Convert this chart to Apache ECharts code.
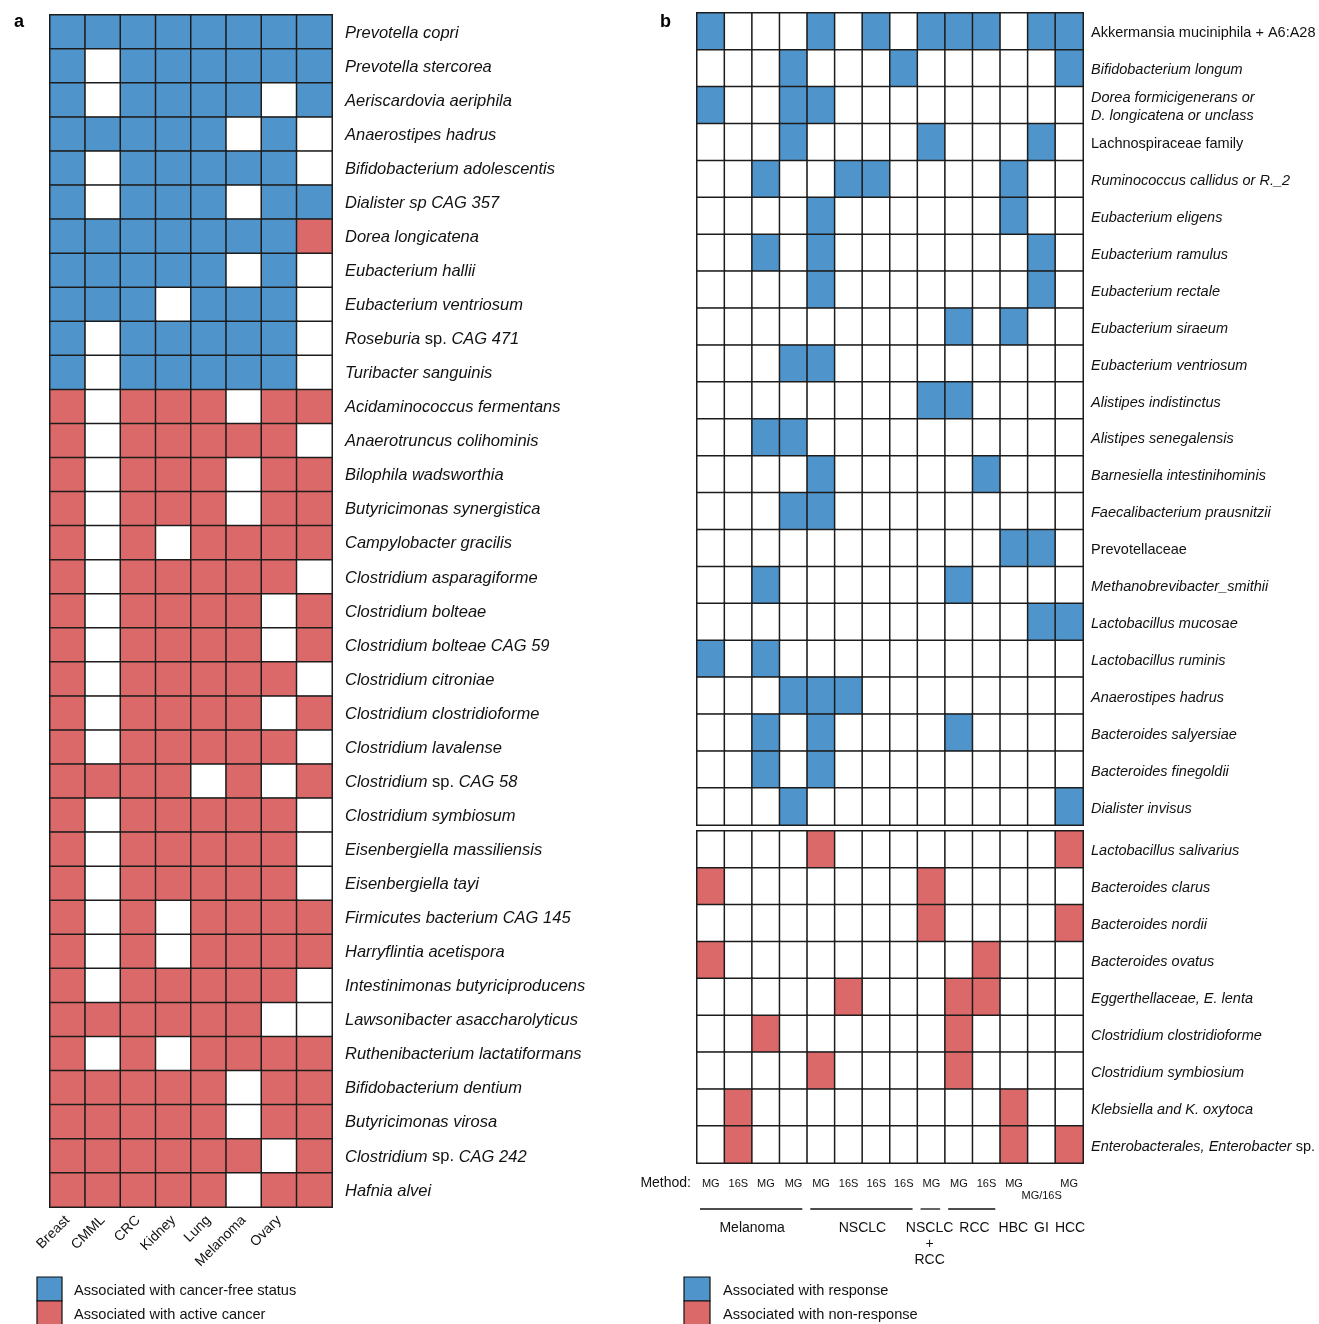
<!DOCTYPE html>
<html><head><meta charset="utf-8">
<script src="https://cdn.jsdelivr.net/npm/echarts@6/dist/echarts.min.js"></script>
<style>html,body{margin:0;padding:0;background:#fff}#c{width:1319px;height:1324px}</style>
</head><body><div id="c"></div>
<script>
// ---------- Panel a ----------
const cancersA = ['Breast','CMML','CRC','Kidney','Lung','Melanoma','Ovary',''];
const speciesA = ['Prevotella copri','Prevotella stercorea','Aeriscardovia aeriphila','Anaerostipes hadrus','Bifidobacterium adolescentis','Dialister sp CAG 357','Dorea longicatena','Eubacterium hallii','Eubacterium ventriosum','Roseburia sp. CAG 471','Turibacter sanguinis','Acidaminococcus fermentans','Anaerotruncus colihominis','Bilophila wadsworthia','Butyricimonas synergistica','Campylobacter gracilis','Clostridium asparagiforme','Clostridium bolteae','Clostridium bolteae CAG 59','Clostridium citroniae','Clostridium clostridioforme','Clostridium lavalense','Clostridium sp. CAG 58','Clostridium symbiosum','Eisenbergiella massiliensis','Eisenbergiella tayi','Firmicutes bacterium CAG 145','Harryflintia acetispora','Intestinimonas butyriciproducens','Lawsonibacter asaccharolyticus','Ruthenibacterium lactatiformans','Bifidobacterium dentium','Butyricimonas virosa','Clostridium sp. CAG 242','Hafnia alvei'];
// 1 = cancer-free status, -1 = active cancer, 0 = none
const valuesA = [
[1,1,1,1,1,1,1,1],
[1,0,1,1,1,1,1,1],
[1,0,1,1,1,1,0,1],
[1,1,1,1,1,0,1,0],
[1,0,1,1,1,1,1,0],
[1,0,1,1,1,0,1,1],
[1,1,1,1,1,1,1,-1],
[1,1,1,1,1,0,1,0],
[1,1,1,0,1,1,1,0],
[1,0,1,1,1,1,1,0],
[1,0,1,1,1,1,1,0],
[-1,0,-1,-1,-1,0,-1,-1],
[-1,0,-1,-1,-1,-1,-1,0],
[-1,0,-1,-1,-1,0,-1,-1],
[-1,0,-1,-1,-1,0,-1,-1],
[-1,0,-1,0,-1,-1,-1,-1],
[-1,0,-1,-1,-1,-1,-1,0],
[-1,0,-1,-1,-1,-1,0,-1],
[-1,0,-1,-1,-1,-1,0,-1],
[-1,0,-1,-1,-1,-1,-1,0],
[-1,0,-1,-1,-1,-1,0,-1],
[-1,0,-1,-1,-1,-1,-1,0],
[-1,-1,-1,-1,0,-1,0,-1],
[-1,0,-1,-1,-1,-1,-1,0],
[-1,0,-1,-1,-1,-1,-1,0],
[-1,0,-1,-1,-1,-1,-1,0],
[-1,0,-1,0,-1,-1,-1,-1],
[-1,0,-1,0,-1,-1,-1,-1],
[-1,0,-1,-1,-1,-1,-1,0],
[-1,-1,-1,-1,-1,-1,0,0],
[-1,0,-1,0,-1,-1,-1,-1],
[-1,-1,-1,-1,-1,0,-1,-1],
[-1,-1,-1,-1,-1,0,-1,-1],
[-1,-1,-1,-1,-1,-1,0,-1],
[-1,-1,-1,-1,-1,0,-1,-1]
];

// ---------- Panel b ----------
const methodB = ['MG','16S','MG','MG','MG','16S','16S','16S','MG','MG','16S','MG','MG/16S','MG'];
const groupsB = [
  {label:'Melanoma', start:0, end:3, line:true},
  {label:'NSCLC', start:4, end:7, line:true},
  {label:'NSCLC\n+\nRCC', start:8, end:8, line:true},
  {label:'RCC', start:9, end:10, line:true},
  {label:'HBC', start:11, end:11, line:false},
  {label:'GI', start:12, end:12, line:false},
  {label:'HCC', start:13, end:13, line:false}
];
const speciesTop = ['Akkermansia muciniphila + A6:A28','Bifidobacterium longum','Dorea formicigenerans or\nD. longicatena or unclass','Lachnospiraceae family','Ruminococcus callidus or R._2','Eubacterium eligens','Eubacterium ramulus','Eubacterium rectale','Eubacterium siraeum','Eubacterium ventriosum','Alistipes indistinctus','Alistipes senegalensis','Barnesiella intestinihominis','Faecalibacterium prausnitzii','Prevotellaceae','Methanobrevibacter_smithii','Lactobacillus mucosae','Lactobacillus ruminis','Anaerostipes hadrus','Bacteroides salyersiae','Bacteroides finegoldii','Dialister invisus'];
const responseCols = [
[0,4,6,8,9,10,12,13],[3,7,13],[0,3,4],[3,8,12],[2,5,6,11],[4,11],[2,4,12],[4,12],[9,11],[3,4],[8,9],
[2,3],[4,10],[3,4],[11,12],[2,9],[12,13],[0,2],[3,4,5],[2,4,9],[2,4],[3,13]
];
const speciesBot = ['Lactobacillus salivarius','Bacteroides clarus','Bacteroides nordii','Bacteroides ovatus','Eggerthellaceae, E. lenta','Clostridium clostridioforme','Clostridium symbiosium','Klebsiella and K. oxytoca','Enterobacterales, Enterobacter sp.'];
const nonResponseCols = [[4,13],[0,8],[8,13],[0,10],[5,9,10],[2,9],[4,9],[1,11],[1,11,13]];
const uprightNames = ['Akkermansia muciniphila + A6:A28','Lachnospiraceae family','Prevotellaceae'];

const legendA = ['Associated with cancer-free status','Associated with active cancer'];
const legendB = ['Associated with response','Associated with non-response'];

// ---------- build ----------
const BLUE = '#4F95CB', RED = '#DC6969', LINE = '#1c1c1c';
const FONT = "'Liberation Sans', Arial, Helvetica, sans-serif";

const dataA = [];
valuesA.forEach((row, r) => row.forEach((v, c) => dataA.push([c, r, v])));
function buildB(cols, sign, nRows) {
  const out = [];
  for (let r = 0; r < nRows; r++)
    for (let c = 0; c < methodB.length; c++)
      out.push([c, r, cols[r].includes(c) ? sign : 0]);
  return out;
}
const dataTop = buildB(responseCols, 1, speciesTop.length);
const dataBot = buildB(nonResponseCols, -1, speciesBot.length);

function fmtName(name) {
  if (uprightNames.includes(name)) return '{n|' + name + '}';
  return name.replace(' sp.', ' {n|sp.}');
}
function yAxisCfg(gi, data, size, margin, lh, padTop) {
  return {
    type:'category', gridIndex:gi, data:data, inverse:true, position:'right',
    axisLine:{show:false}, axisTick:{show:false}, splitLine:{show:false},
    axisLabel:{
      interval:0, margin:margin, align:'left', color:'#111', fontSize:size,
      fontStyle:'italic', fontFamily:FONT, lineHeight:lh, padding:[padTop,0,0,0],
      formatter: v => fmtName(v),
      rich:{ n:{fontStyle:'normal', fontSize:size, fontFamily:FONT, color:'#111', lineHeight:lh} }
    }
  };
}
const heatStyle = {borderColor:LINE, borderWidth:1.5};

const option = {
  animation:false,
  backgroundColor:'#fff',
  title:[
    {text:'a', left:9, top:8, textStyle:{fontSize:18, fontWeight:'bold', color:'#000', fontFamily:FONT}},
    {text:'b', left:655, top:8, textStyle:{fontSize:18, fontWeight:'bold', color:'#000', fontFamily:FONT}}
  ],
  grid:[
    {left:50, top:15, width:282, height:1192},
    {left:697, top:13, width:386, height:812},
    {left:697, top:831, width:386, height:332}
  ],
  xAxis:[
    {type:'category', gridIndex:0, data:cancersA, position:'bottom',
     axisLine:{show:false}, axisTick:{show:false}, splitLine:{show:false},
     axisLabel:{interval:0, rotate:45, margin:11, fontSize:14, color:'#111', fontFamily:FONT}},
    {type:'category', gridIndex:1, data:methodB, axisLine:{show:false}, axisTick:{show:false},
     axisLabel:{show:false}, splitLine:{show:false}},
    {type:'category', gridIndex:2, data:methodB, position:'bottom',
     axisLine:{show:false}, axisTick:{show:false}, splitLine:{show:false},
     axisLabel:{interval:0, margin:15, fontSize:11, color:'#111', fontFamily:FONT, lineHeight:12,
       formatter:(v, i) => (methodB[i] === 'MG/16S' ? '\n' + methodB[i] : methodB[i])}}
  ],
  yAxis:[
    yAxisCfg(0, speciesA, 16.5, 13, 20, 2),
    yAxisCfg(1, speciesTop, 14.5, 8, 18, 4),
    yAxisCfg(2, speciesBot, 14.5, 8, 18, 4)
  ],
  visualMap:{
    type:'piecewise', show:false, seriesIndex:[0,1,2], dimension:2,
    pieces:[{value:1, color:BLUE},{value:-1, color:RED},{value:0, color:'#ffffff'}]
  },
  series:[
    {type:'heatmap', xAxisIndex:0, yAxisIndex:0, data:dataA, itemStyle:heatStyle, emphasis:{disabled:true}},
    {type:'heatmap', xAxisIndex:1, yAxisIndex:1, data:dataTop, itemStyle:heatStyle, emphasis:{disabled:true}},
    {type:'heatmap', xAxisIndex:2, yAxisIndex:2, data:dataBot, itemStyle:heatStyle, emphasis:{disabled:true}}
  ]
};

const chart = echarts.init(document.getElementById('c'), null, {renderer:'canvas'});
chart.setOption(option);

// group annotations under panel b, placed from the axis scale
const xb = i => chart.convertToPixel({xAxisIndex:2}, i);
const yb = i => chart.convertToPixel({yAxisIndex:2}, i);
const cw = xb(1) - xb(0);
const ch = yb(1) - yb(0);
const gridBottom = yb(speciesBot.length - 1) + ch / 2;
const gridLeft = xb(0) - cw / 2;
const gfx = [];
const GFONT = "14px " + FONT;
gfx.push({type:'text', x:gridLeft - 6, y:gridBottom + 20,
  style:{text:'Method:', align:'right', verticalAlign:'middle', font:GFONT, fill:'#111'}});

// measure labels and nudge neighbours apart so they never touch
const ctx = document.createElement('canvas').getContext('2d');
ctx.font = GFONT;
const placed = groupsB.map(g => {
  const x0 = xb(g.start) - cw / 2, x1 = xb(g.end) + cw / 2;
  const w = Math.max.apply(null, g.label.split('\n').map(s => ctx.measureText(s).width));
  return {g, x0, x1, cx:(x0 + x1) / 2, w};
});
const MIN_GAP = 6;
for (let pass = 0; pass < 5; pass++) {
  for (let i = 0; i < placed.length - 1; i++) {
    const a = placed[i], b = placed[i + 1];
    const gap = (b.cx - b.w / 2) - (a.cx + a.w / 2);
    if (gap < MIN_GAP) { const d = (MIN_GAP - gap) / 2; a.cx -= d; b.cx += d; }
  }
}
placed.forEach(p => {
  if (p.g.line) gfx.push({type:'line', shape:{x1:p.x0 + 3, y1:gridBottom + 46, x2:p.x1 - 5, y2:gridBottom + 46},
    style:{stroke:'#111', lineWidth:1.3}});
  gfx.push({type:'text', x:p.cx, y:gridBottom + 57,
    style:{text:p.g.label, align:'center', verticalAlign:'top', font:GFONT, fill:'#111', lineHeight:16}});
});
// legends (colour keys)
function addLegend(names, colors, left, top, sw, textGap) {
  names.forEach((n, i) => {
    gfx.push({type:'rect', shape:{x:left, y:top + i * 24, width:sw, height:24},
      style:{fill:colors[i], stroke:'#111', lineWidth:1.2}});
    gfx.push({type:'text', x:left + sw + textGap, y:top + i * 24 + 14,
      style:{text:n, align:'left', verticalAlign:'middle', font:"14.6px " + FONT, fill:'#111'}});
  });
}
addLegend(legendA, [BLUE, RED], 37, 1277, 25, 12);
addLegend(legendB, [BLUE, RED], 684, 1277, 26, 13);
chart.setOption({graphic:gfx});
</script>
</body></html>
